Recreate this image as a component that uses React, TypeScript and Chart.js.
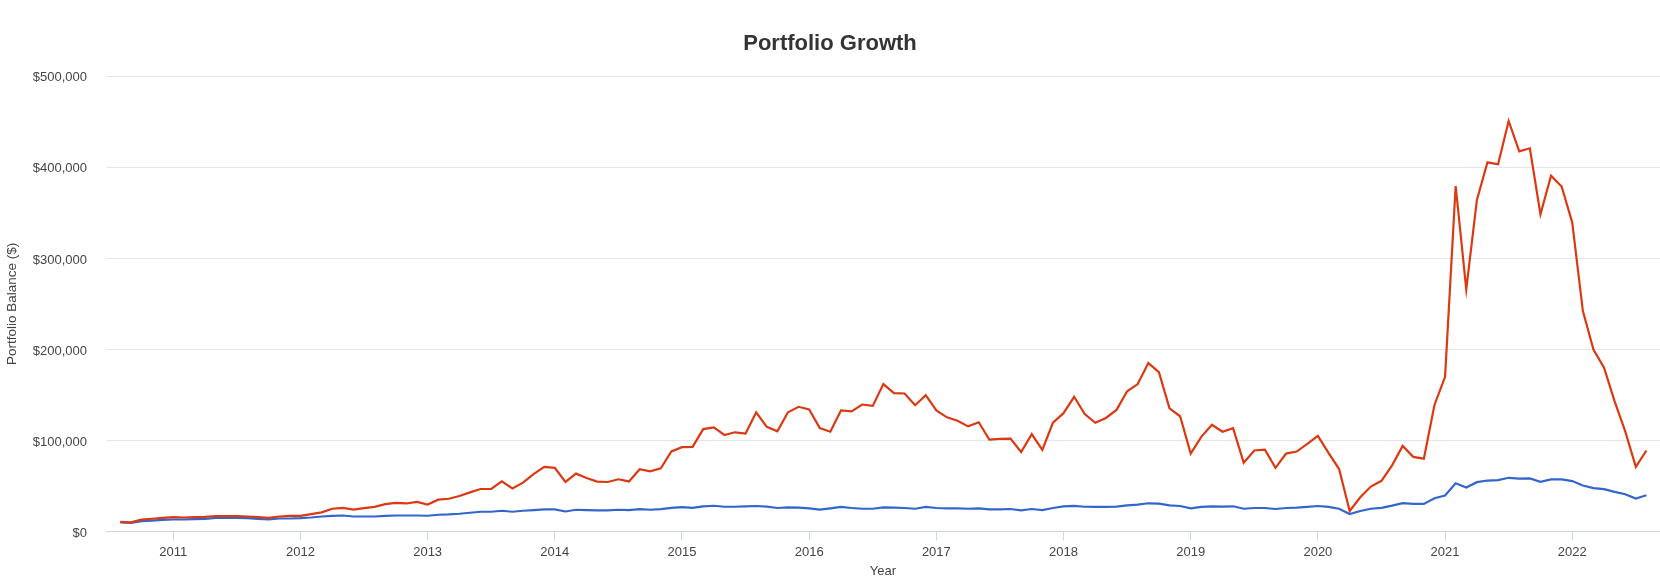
import React, { useEffect, useRef } from 'react';
import { Chart, registerables } from 'chart.js';

Chart.register(...registerables);

// First month of the series (August 2010), monthly points to August 2022
const START_YEAR = 2010;
const START_MONTH = 8;

const yearTicks = [2011, 2012, 2013, 2014, 2015, 2016, 2017, 2018, 2019, 2020, 2021, 2022];

const yTicks = [0, 100000, 200000, 300000, 400000, 500000];

// Red series
const portfolio1 = [
  10500, 10000, 13000, 14000, 15000,
  15700, 15400, 15700, 16000, 17000, 16800, 16800, 16500, 15700, 15000, 16500, 17200,
  17200, 19000, 21000, 25000, 26000, 24000, 25600, 27000, 30000, 31500, 30800, 32600,
  29700, 35000, 36000, 39000, 43000, 46700, 46700, 55000, 47400, 53700, 63000, 71000,
  70000, 54400, 63600, 58800, 54800, 54400, 57400, 55000, 68400, 66000, 69500, 88000,
  92600, 93000, 112500, 114300, 106000, 109000, 107700, 131000, 115000, 110000, 131000, 137000,
  134000, 113600, 109600, 133000, 132000, 139500, 138000, 162000, 152000, 151600, 138700, 149800,
  133000, 125400, 121700, 115500, 120000, 101000, 101800, 102000, 87400, 107000, 89600, 119500,
  130000, 148000, 129000, 119500, 124700, 133600, 154000, 162000, 185000, 175000, 135400, 126600,
  85600, 104000, 117300, 109600, 113600, 75600, 89000, 90000, 70000, 85600, 87800, 96300,
  105000, 86300, 68600, 22500, 37600, 49400, 55700, 72700, 94000, 82000, 80000, 139000,
  170000, 379600, 266000, 364000, 405600, 403400, 451000, 417700, 421000, 348500, 391000, 379000,
  339400, 242400, 200000, 180000, 143000, 110000, 71000, 89000,
];

// Blue series
const portfolio2 = [
  10000, 9500, 11400, 12000, 12800,
  13200, 13200, 13500, 13900, 15000, 15000, 15000, 14600, 13900, 13200, 14300, 14300,
  14600, 15400, 16500, 17200, 17600, 16500, 16500, 16500, 17200, 17600, 17600, 17600,
  17300, 18400, 18800, 19500, 20600, 21700, 21700, 22800, 21700, 22800, 23500, 24300,
  24300, 22000, 23900, 23500, 23200, 23200, 23900, 23500, 24600, 23900, 24600, 26000,
  26800, 26000, 27600, 28300, 27200, 27200, 27600, 28000, 27300, 25800, 26500, 26200,
  25500, 24000, 25500, 27000, 25800, 25000, 25000, 26500, 26200, 25800, 25000, 27000,
  25800, 25500, 25500, 25000, 25500, 24400, 24400, 24700, 23200, 24700, 23600, 25800,
  27500, 28200, 27200, 27000, 27000, 27300, 28800, 29500, 31000, 30600, 28800, 28000,
  25500, 27000, 27700, 27300, 27700, 25000, 25800, 25800, 24700, 25800, 26200, 27000,
  28000, 27000, 25000, 19200, 22500, 25000, 26000, 28400, 31200, 30400, 30300, 36500,
  39500, 53000, 48300, 54200, 56000, 56500, 59000, 58000, 58300, 54600, 57200, 57200,
  55400, 50600, 47600, 46500, 43500, 41000, 36200, 39900,
];

const FONT = "Arial, 'Liberation Sans', sans-serif";

export default function App() {
  const canvasRef = useRef<HTMLCanvasElement | null>(null);

  useEffect(() => {
    document.body.style.margin = '0';
    const canvas = canvasRef.current;
    if (!canvas) return;

    const toPoints = (vals: number[]) =>
      vals.map((v, i) => ({ x: START_YEAR + (START_MONTH - 1 + i) / 12, y: v }));

    const chart = new Chart(canvas, {
      type: 'line',
      data: {
        datasets: [
          {
            label: 'Portfolio 1',
            data: toPoints(portfolio1),
            borderColor: '#dc3912',
            backgroundColor: '#dc3912',
            borderWidth: 2.2,
            pointRadius: 0,
            pointHoverRadius: 0,
            tension: 0,
          },
          {
            label: 'Portfolio 2',
            data: toPoints(portfolio2),
            borderColor: '#3366cc',
            backgroundColor: '#3366cc',
            borderWidth: 2.2,
            pointRadius: 0,
            pointHoverRadius: 0,
            tension: 0,
          },
        ],
      },
      options: {
        animation: false,
        responsive: true,
        maintainAspectRatio: false,
        layout: { padding: { left: 0, right: 0, top: 0, bottom: 0 } },
        plugins: {
          legend: { display: false },
          tooltip: { enabled: false },
          title: {
            display: true,
            text: 'Portfolio Growth',
            color: '#333333',
            font: { family: FONT, size: 22, weight: 'bold' },
            padding: { top: 31, bottom: 19 },
          },
        },
        scales: {
          x: {
            type: 'linear',
            min: 2010.471,
            max: 2022.69,
            afterBuildTicks: (scale: any) => {
              scale.ticks = yearTicks.map((v) => ({ value: v }));
            },
            afterFit: (scale: any) => {
              scale.height = 50.5;
            },
            ticks: {
              autoSkip: false,
              maxRotation: 0,
              padding: 4,
              color: '#444444',
              font: { family: FONT, size: 13 },
              callback: (v: any) => String(v),
            },
            grid: {
              drawOnChartArea: false,
              drawTicks: true,
              tickLength: 9,
              color: '#ccd6eb',
            },
            border: { display: true, color: '#ccd6eb', width: 1 },
            title: {
              display: true,
              text: 'Year',
              color: '#444444',
              font: { family: FONT, size: 13 },
              padding: { top: 2.5, bottom: 2.5 },
            },
          },
          y: {
            type: 'linear',
            min: 0,
            max: 500000,
            afterBuildTicks: (scale: any) => {
              scale.ticks = yTicks.map((v) => ({ value: v }));
            },
            afterFit: (scale: any) => {
              scale.width = 106;
            },
            ticks: {
              padding: 19,
              labelOffset: 1.5,
              color: '#444444',
              font: { family: FONT, size: 13 },
              callback: (v: any) => '$' + Number(v).toLocaleString('en-US'),
            },
            grid: {
              drawTicks: false,
              color: '#e6e6e6',
            },
            border: { display: false },
            title: {
              display: true,
              text: 'Portfolio Balance ($)',
              color: '#444444',
              font: { family: FONT, size: 13.5 },
              padding: { top: 4.5, bottom: 4.5 },
            },
          },
        },
      },
    });

    return () => {
      chart.destroy();
    };
  }, []);

  return (
    <div style={{ width: '1660px', height: '582px', position: 'relative' }}>
      <canvas ref={canvasRef} />
    </div>
  );
}
